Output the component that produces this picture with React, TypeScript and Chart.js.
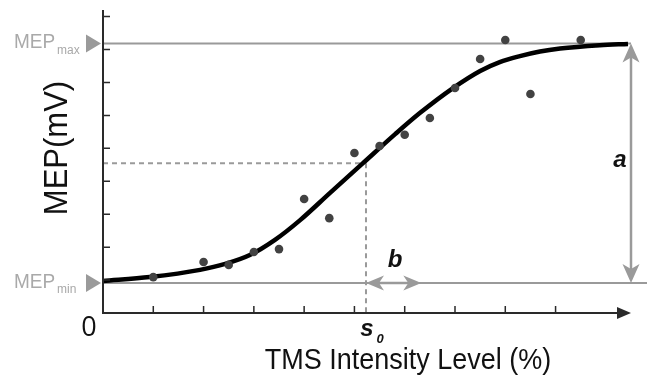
import React, { useEffect, useRef } from "react";
import { Chart, registerables } from "chart.js";

Chart.register(...registerables);

// ---- data (axis units) ----
const X_MIN = 0;
const X_MAX = 10.5;
const Y_MIN = 0;
const Y_MAX = 9.2;
const X_TICKS = [1, 2, 3, 4, 5, 6, 7, 8, 9];
const Y_TICKS = [1, 2, 3, 4, 5, 6, 7, 8, 9];
const MEP_MIN = 0.91;
const MEP_MAX = 8.18;
const S0 = 5.23;
const B = 1.1;

const dotX = [1, 2, 2.5, 3, 3.5, 4, 4.5, 5, 5.5, 6, 6.5, 7, 7.5, 8, 8.5, 9.5];
const dotY = [1.09, 1.55, 1.46, 1.85, 1.94, 3.46, 2.88, 4.86, 5.07, 5.41, 5.92, 6.83, 7.71, 8.29, 6.65, 8.29];

const curveX = [0, 0.93, 1.93, 2.43, 2.92, 3.42, 3.92, 4.51, 5.17, 5.81, 6.3, 6.96, 7.5, 7.89, 8.29, 8.69, 9.09, 9.88, 10.44];
const curveY = [0.97, 1.09, 1.31, 1.49, 1.76, 2.22, 2.82, 3.64, 4.55, 5.43, 6.07, 6.83, 7.35, 7.62, 7.8, 7.94, 8.03, 8.13, 8.17];

const Y_TITLE = "MEP(mV)";
const X_TITLE = "TMS Intensity Level (%)";

const GRAY = "#9a9a9a";
const LABEL_GRAY = "#a9a9a9";
const AXIS = "#2a2a2a";

function text(ctx: CanvasRenderingContext2D, s: string, x: number, y: number, font: string, color: string, align: CanvasTextAlign = "left", sy = 1, rot = 0) {
  ctx.save();
  ctx.translate(x, y);
  if (rot) ctx.rotate(rot);
  ctx.scale(1, sy);
  ctx.font = font;
  ctx.fillStyle = color;
  ctx.textAlign = align;
  ctx.textBaseline = "alphabetic";
  ctx.fillText(s, 0, 0);
  ctx.restore();
}

// arrowhead with tip at (tx,ty) pointing in direction (dx,dy)
function arrowHead(ctx: CanvasRenderingContext2D, tx: number, ty: number, dx: number, dy: number, len: number, half: number, notch: number, color: string) {
  const px = -dy, py = dx;
  const bx = tx - dx * len, by = ty - dy * len;
  ctx.save();
  ctx.fillStyle = color;
  ctx.beginPath();
  ctx.moveTo(tx, ty);
  ctx.lineTo(bx + px * half, by + py * half);
  ctx.lineTo(tx - dx * (len - notch), ty - dy * (len - notch));
  ctx.lineTo(bx - px * half, by - py * half);
  ctx.closePath();
  ctx.fill();
  ctx.restore();
}

const decorPlugin = {
  id: "decor",
  beforeDatasetsDraw(chart: any) {
    const ctx: CanvasRenderingContext2D = chart.ctx;
    const xs = chart.scales.x, ys = chart.scales.y;
    const x0 = xs.getPixelForValue(X_MIN);
    const xEnd = xs.getPixelForValue(X_MAX);
    const yMin = ys.getPixelForValue(MEP_MIN);
    const yMax = ys.getPixelForValue(MEP_MAX);
    const yMid = ys.getPixelForValue((MEP_MIN + MEP_MAX) / 2);
    const xs0 = xs.getPixelForValue(S0);
    const yAxis0 = ys.getPixelForValue(Y_MIN);
    ctx.save();
    ctx.strokeStyle = GRAY;
    ctx.lineWidth = 2;
    ctx.beginPath();
    ctx.moveTo(x0, yMax);
    ctx.lineTo(xEnd, yMax);
    ctx.stroke();
    ctx.beginPath();
    ctx.moveTo(x0, yMin);
    ctx.lineTo(chart.width, yMin);
    ctx.stroke();
    ctx.setLineDash([5, 4]);
    ctx.beginPath();
    ctx.moveTo(x0, yMid);
    ctx.lineTo(xs0, yMid);
    ctx.moveTo(xs0, yMid);
    ctx.lineTo(xs0, yAxis0);
    ctx.stroke();
    ctx.setLineDash([]);
    ctx.restore();
  },
  afterDraw(chart: any) {
    const ctx: CanvasRenderingContext2D = chart.ctx;
    const xs = chart.scales.x, ys = chart.scales.y;
    const x0 = xs.getPixelForValue(X_MIN);
    const xEnd = xs.getPixelForValue(X_MAX);
    const yBase = ys.getPixelForValue(Y_MIN);
    const yTop = ys.getPixelForValue(Y_MAX);
    const yMin = ys.getPixelForValue(MEP_MIN);
    const yMax = ys.getPixelForValue(MEP_MAX);
    const xs0 = xs.getPixelForValue(S0);
    const xb = xs.getPixelForValue(S0 + B);
    ctx.save();
    // axes
    ctx.strokeStyle = AXIS;
    ctx.lineWidth = 2;
    ctx.beginPath();
    ctx.moveTo(x0, yTop);
    ctx.lineTo(x0, yBase);
    ctx.lineTo(xEnd - 8, yBase);
    ctx.stroke();
    arrowHead(ctx, xEnd, yBase, 1, 0, 14, 6, 0, AXIS);
    // ticks
    ctx.lineWidth = 1.5;
    ctx.beginPath();
    for (const t of Y_TICKS) {
      const y = ys.getPixelForValue(t);
      ctx.moveTo(x0, y);
      ctx.lineTo(x0 + 7, y);
    }
    for (const t of X_TICKS) {
      const x = xs.getPixelForValue(t);
      ctx.moveTo(x, yBase);
      ctx.lineTo(x, yBase - 7);
    }
    ctx.stroke();

    // a arrow
    ctx.strokeStyle = GRAY;
    ctx.lineWidth = 2.5;
    ctx.beginPath();
    ctx.moveTo(xEnd, yMax + 12);
    ctx.lineTo(xEnd, yMin - 12);
    ctx.stroke();
    arrowHead(ctx, xEnd, yMax, 0, -1, 19, 8.5, 5, GRAY);
    arrowHead(ctx, xEnd, yMin, 0, 1, 19, 8.5, 5, GRAY);
    // b arrow
    ctx.beginPath();
    ctx.moveTo(xs0 + 10, yMin);
    ctx.lineTo(xb - 10, yMin);
    ctx.stroke();
    arrowHead(ctx, xs0, yMin, -1, 0, 18, 7.5, 5, GRAY);
    arrowHead(ctx, xb, yMin, 1, 0, 18, 7.5, 5, GRAY);

    // left markers
    for (const yy of [yMax, yMin]) {
      ctx.fillStyle = GRAY;
      ctx.beginPath();
      ctx.moveTo(x0 - 2, yy);
      ctx.lineTo(x0 - 17, yy - 9);
      ctx.lineTo(x0 - 17, yy + 9);
      ctx.closePath();
      ctx.fill();
    }
    text(ctx, "MEP", 14, yMax + 4.5, "19px 'Liberation Sans', Arial, sans-serif", LABEL_GRAY, "left", 1.05);
    text(ctx, "max", 57, yMax + 10, "12px 'Liberation Sans', Arial, sans-serif", LABEL_GRAY, "left");
    text(ctx, "MEP", 14, yMin + 4.5, "19px 'Liberation Sans', Arial, sans-serif", LABEL_GRAY, "left", 1.05);
    text(ctx, "min", 57, yMin + 10, "12px 'Liberation Sans', Arial, sans-serif", LABEL_GRAY, "left");

    // labels
    text(ctx, "a", 620, 167, "italic bold 24px 'Liberation Sans', Arial, sans-serif", "#111", "center");
    text(ctx, "b", 395, 267, "italic bold 24px 'Liberation Sans', Arial, sans-serif", "#111", "center");
    text(ctx, "s", 367, 336, "italic bold 24px 'Liberation Sans', Arial, sans-serif", "#111", "center");
    text(ctx, "0", 380, 343, "italic bold 13px 'Liberation Sans', Arial, sans-serif", "#111", "center");
    text(ctx, "0", 89, 336, "27px 'Open Sans', 'Liberation Sans', sans-serif", "#111", "center");
    text(ctx, X_TITLE, 408, 369, "27px 'Liberation Sans', Arial, sans-serif", "#111", "center", 1.12);
    text(ctx, Y_TITLE, 67, 148, "31px 'Liberation Sans', Arial, sans-serif", "#111", "center", 1.05, -Math.PI / 2);
    ctx.restore();
  },
};

export default function App() {
  const ref = useRef<HTMLCanvasElement | null>(null);
  useEffect(() => {
    document.body.style.margin = "0";
    const canvas = ref.current!;
    const chart = new Chart(canvas, {
      type: "scatter",
      data: {
        datasets: [
          {
            label: "data",
            data: dotX.map((x, i) => ({ x, y: dotY[i] })),
            backgroundColor: "#424242",
            borderWidth: 0,
            pointRadius: 4.3,
            showLine: false,
            clip: false as any,
          },
          {
            label: "fit",
            data: curveX.map((x, i) => ({ x, y: curveY[i] })),
            borderColor: "#000",
            borderWidth: 4.5,
            pointRadius: 0,
            showLine: true,
            cubicInterpolationMode: "monotone",
            clip: false as any,
          },
        ],
      },
      options: {
        responsive: false,
        animation: false,
        devicePixelRatio: 1,
        layout: { padding: { left: 103, right: 16, top: 10, bottom: 73 } },
        scales: {
          x: { type: "linear", display: false, min: X_MIN, max: X_MAX },
          y: { type: "linear", display: false, min: Y_MIN, max: Y_MAX },
        },
        plugins: { legend: { display: false }, tooltip: { enabled: false } },
        events: [],
      },
      plugins: [decorPlugin],
    });
    return () => chart.destroy();
  }, []);
  return (
    <div style={{ width: 647, height: 386, background: "#fff" }}>
      <canvas ref={ref} width={647} height={386} style={{ display: "block" }} />
    </div>
  );
}
